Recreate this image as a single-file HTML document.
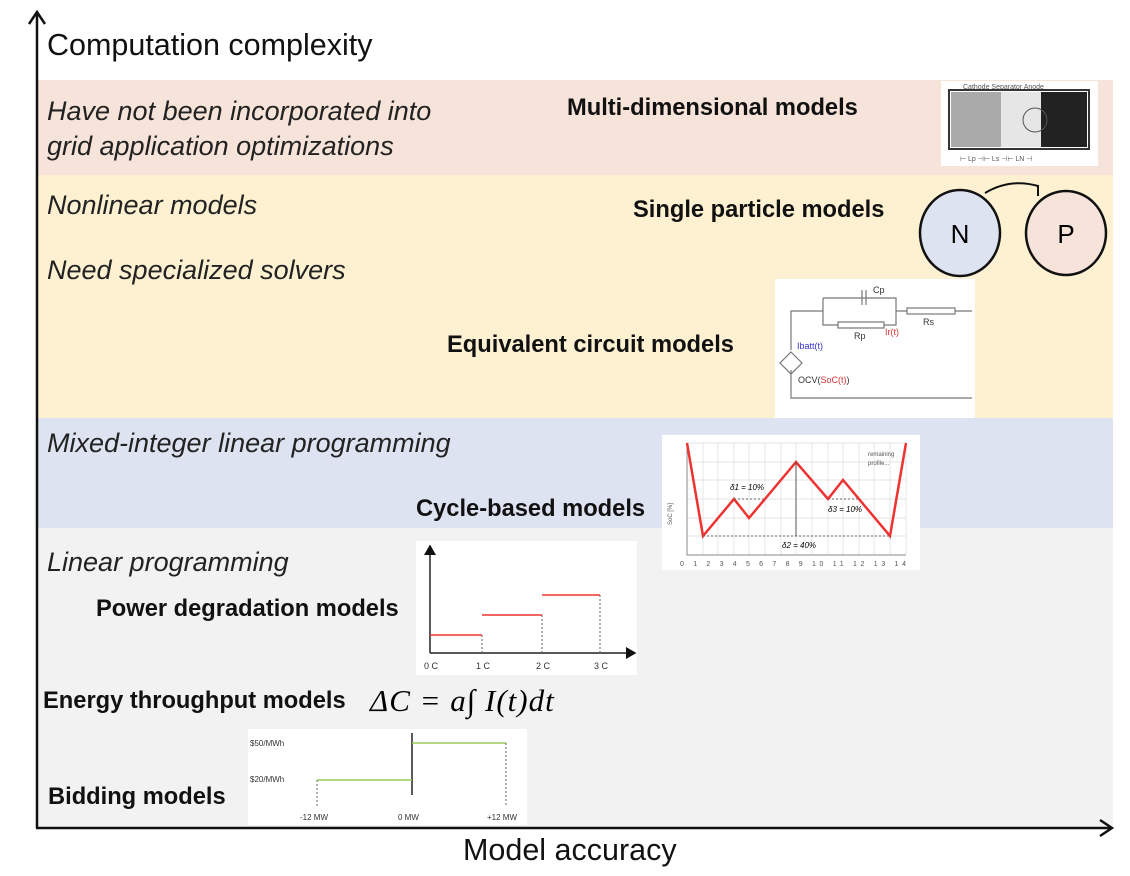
<!DOCTYPE html>
<html><head><style>
body{margin:0;width:1130px;height:876px;background:#fff;position:relative;overflow:hidden;font-family:"Liberation Sans",sans-serif;}
.a{position:absolute;white-space:nowrap;}
.i{font-style:italic;font-size:27px;color:#222;}
.b{font-weight:bold;font-size:23.7px;color:#111;}
</style></head><body>
<div class="a" style="left:37px;top:80px;width:1076px;height:95px;background:#f6e3d9"></div>
<div class="a" style="left:37px;top:175px;width:1076px;height:243px;background:#fdf1d2"></div>
<div class="a" style="left:37px;top:418px;width:1076px;height:110px;background:#dde3f0"></div>
<div class="a" style="left:37px;top:528px;width:1076px;height:300px;background:#f2f2f2"></div>

<div class="a" style="left:47px;top:28px;font-size:30.5px;color:#111">Computation complexity</div>
<div class="a" style="left:463px;top:833px;font-size:30.5px;color:#111">Model accuracy</div>

<div class="a i" style="left:47px;top:94px;line-height:35px">Have not been incorporated into<br>grid application optimizations</div>
<div class="a i" style="left:47px;top:190px">Nonlinear models</div>
<div class="a i" style="left:47px;top:255px">Need specialized solvers</div>
<div class="a i" style="left:47px;top:428px">Mixed-integer linear programming</div>
<div class="a i" style="left:47px;top:547px">Linear programming</div>

<div class="a b" style="left:567px;top:95px">Multi-dimensional models</div>
<div class="a b" style="left:633px;top:197px">Single particle models</div>
<div class="a b" style="left:447px;top:332px">Equivalent circuit models</div>
<div class="a b" style="left:416px;top:496px">Cycle-based models</div>
<div class="a b" style="left:96px;top:596px">Power degradation models</div>
<div class="a b" style="left:43px;top:688px">Energy throughput models</div>
<div class="a" style="left:370px;top:683px;font-family:'Liberation Serif',serif;font-style:italic;font-size:31px;letter-spacing:1px">ΔC = a∫ I(t)dt</div>
<div class="a b" style="left:48px;top:784px">Bidding models</div>

<svg class="a" style="left:0;top:0" width="1130" height="876">
<defs><marker id="ar" markerUnits="userSpaceOnUse" markerWidth="20" markerHeight="20" refX="18" refY="10" orient="auto"><path d="M6,2 L18,10 L6,18" fill="none" stroke="#111" stroke-width="2.5"/></marker>
<marker id="sa" markerWidth="8" markerHeight="8" refX="6" refY="4" orient="auto"><path d="M0,0 L7,4 L0,8 z" fill="#111"/></marker></defs>
<line x1="37" y1="828" x2="37" y2="12" stroke="#111" stroke-width="2.5" marker-end="url(#ar)"/>
<line x1="36" y1="828" x2="1112" y2="828" stroke="#111" stroke-width="2.5" marker-end="url(#ar)"/>

<!-- multi-dim image -->
<rect x="941" y="81" width="157" height="85" fill="#fff"/>
<rect x="951" y="92" width="50" height="55" fill="#aaa"/>
<rect x="1001" y="92" width="40" height="55" fill="#e6e6e6"/>
<rect x="1041" y="92" width="46" height="55" fill="#222"/>
<rect x="949" y="90" width="140" height="59" fill="none" stroke="#333" stroke-width="2"/>
<circle cx="1035" cy="120" r="12" fill="none" stroke="#555"/>
<text x="963" y="89" font-size="7" fill="#555">Cathode  Separator   Anode</text>
<text x="960" y="161" font-size="7" fill="#555">⊢ Lp ⊣⊢ Ls ⊣⊢ LN ⊣</text>

<!-- N P -->
<path d="M985,193 Q1010,178 1038,186" fill="none" stroke="#111" stroke-width="2"/>
<line x1="1038" y1="185" x2="1038" y2="196" stroke="#111" stroke-width="2"/>
<ellipse cx="960" cy="233" rx="40" ry="43" fill="#dde3f0" stroke="#111" stroke-width="2.5"/>
<ellipse cx="1066" cy="233" rx="40" ry="42" fill="#f6e3d9" stroke="#111" stroke-width="2.5"/>
<text x="960" y="243" font-size="26" text-anchor="middle">N</text>
<text x="1066" y="243" font-size="26" text-anchor="middle">P</text>

<!-- circuit -->
<rect x="775" y="279" width="200" height="139" fill="#fff"/>
<g stroke="#777" fill="none" stroke-width="1.2">
<path d="M791,350 V311 H823 M823,298 V325 H838 M884,325 H896 V298 H823 M855,298 H862 M868,298 H896 M896,311 H907 M955,311 H972 M791,370 V398 H972 M791,384 V396"/>
<line x1="862" y1="290" x2="862" y2="305"/><line x1="866" y1="290" x2="866" y2="305"/>
<rect x="838" y="322" width="46" height="6"/><rect x="907" y="308" width="48" height="6"/>
<path d="M791,352 L802,363 L791,374 L780,363 z"/>
</g>
<text x="873" y="293" font-size="9" fill="#333">Cp</text>
<text x="854" y="339" font-size="9" fill="#333">Rp</text>
<text x="923" y="325" font-size="9" fill="#333">Rs</text>
<text x="885" y="335" font-size="9" fill="#d33">Ir(t)</text>
<text x="797" y="349" font-size="9" fill="#33c">Ibatt(t)</text>
<text x="798" y="383" font-size="9" fill="#333">OCV(<tspan fill="#d33">SoC(t)</tspan>)</text>

<!-- cycle plot -->
<rect x="662" y="435" width="258" height="135" fill="#fff"/>
<g stroke="#ddd" stroke-width="0.7">
<path d="M687,443 H906 M687,462 H906 M687,480 H906 M687,499 H906 M687,518 H906 M687,536 H906"/>
<path d="M703,443 V555 M718,443 V555 M734,443 V555 M749,443 V555 M765,443 V555 M781,443 V555 M796,443 V555 M812,443 V555 M828,443 V555 M843,443 V555 M859,443 V555 M874,443 V555 M890,443 V555 M906,443 V555"/>
</g>
<path d="M687,443 V555 H906" stroke="#888" fill="none"/>
<path d="M687,443 L703,536 L734,499 L749,518 L796,462 L828,499 L843,480 L890,536 L906,443" stroke="#e33" stroke-width="2.5" fill="none"/>
<path d="M703,536 H890 M734,499 H765 M828,499 H859" stroke="#666" stroke-dasharray="2,2"/>
<line x1="796" y1="536" x2="796" y2="462" stroke="#555"/>
<text x="730" y="490" font-size="8" font-style="italic">δ1 = 10%</text>
<text x="828" y="512" font-size="8" font-style="italic">δ3 = 10%</text>
<text x="782" y="548" font-size="8" font-style="italic">δ2 = 40%</text>
<text x="868" y="456" font-size="6" fill="#555">remaining</text>
<text x="868" y="465" font-size="6" fill="#555">profile...</text>
<text x="672" y="525" font-size="6" fill="#555" transform="rotate(-90 672 525)">SoC [%]</text>
<text x="680" y="566" font-size="7" fill="#555" textLength="226">0 1 2 3 4 5 6 7 8 9 10 11 12 13 14</text>

<!-- power degradation -->
<rect x="416" y="541" width="221" height="134" fill="#fff"/>
<line x1="430" y1="653" x2="430" y2="546" stroke="#222" stroke-width="1.5" marker-end="url(#sa)"/>
<line x1="430" y1="653" x2="635" y2="653" stroke="#222" stroke-width="1.5" marker-end="url(#sa)"/>
<path d="M482,635 V653 M542,615 V653 M600,595 V653" stroke="#666" stroke-dasharray="2,2"/>
<path d="M430,635 H482 M482,615 H542 M542,595 H600" stroke="#e33" stroke-width="1.5"/>
<g font-size="9" fill="#333"><text x="424" y="669">0 C</text><text x="476" y="669">1 C</text><text x="536" y="669">2 C</text><text x="594" y="669">3 C</text></g>

<!-- bidding -->
<rect x="248" y="729" width="279" height="96" fill="#fff"/>
<line x1="412" y1="733" x2="412" y2="795" stroke="#222" stroke-width="1.5"/>
<path d="M412,743 H506 M317,780 H412" stroke="#9c5" stroke-width="1.5"/>
<path d="M317,780 V806 M506,743 V806" stroke="#666" stroke-dasharray="2,2"/>
<g font-size="8" fill="#333"><text x="250" y="746">$50/MWh</text><text x="250" y="782">$20/MWh</text>
<text x="300" y="820">-12 MW</text><text x="398" y="820">0 MW</text><text x="487" y="820">+12 MW</text></g>
</svg>
</body></html>
